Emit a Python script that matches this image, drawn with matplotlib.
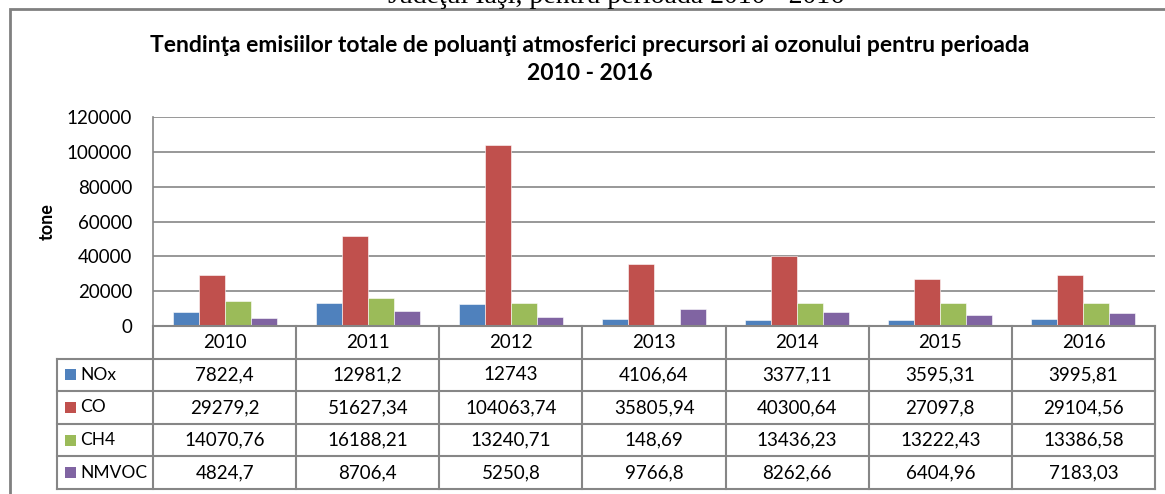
import matplotlib.pyplot as plt
import numpy as np
from matplotlib.patches import Rectangle

plt.rcParams['font.family'] = ['Lato', 'DejaVu Sans']

years = ['2010', '2011', '2012', '2013', '2014', '2015', '2016']
pollutants = ['NOx', 'CO', 'CH4', 'NMVOC']
nox = [7822.4, 12981.2, 12743, 4106.64, 3377.11, 3595.31, 3995.81]
co = [29279.2, 51627.34, 104063.74, 35805.94, 40300.64, 27097.8, 29104.56]
ch4 = [14070.76, 16188.21, 13240.71, 148.69, 13436.23, 13222.43, 13386.58]
nmvoc = [4824.7, 8706.4, 5250.8, 9766.8, 8262.66, 6404.96, 7183.03]
series = [nox, co, ch4, nmvoc]
colors = ['#4F81BD', '#C0504D', '#9BBB59', '#8064A2']

W, H = 1165, 494
fig = plt.figure(figsize=(W / 100, H / 100), dpi=100)

def box(x0, y0, x1, y1):
    # pixel box (top-left origin) -> figure fraction rect
    return [x0 / W, 1 - y1 / H, (x1 - x0) / W, (y1 - y0) / H]

# outer chart border, bottom goes past the picture
fig.patches.append(Rectangle((9.5 / W, -0.2), (1200 - 9.5) / W, 1.2 - 9.5 / H,
                             transform=fig.transFigure, fill=False,
                             edgecolor='#808080', linewidth=2, clip_on=False))

# caption of the page above the chart, cut by the crop
fig.text(616 / W, 1 - 3 / H, 'Judeţul Iaşi, pentru perioada 2010 - 2016',
         ha='center', va='baseline', fontsize=20, family='Liberation Serif')

fig.text(590 / W, 1 - 45 / H,
         'Tendinţa emisiilor totale de poluanţi atmosferici precursori ai ozonului pentru perioada',
         ha='center', va='center', fontsize=16.5, weight='bold')
fig.text(590 / W, 1 - 73 / H, '2010 - 2016',
         ha='center', va='center', fontsize=16.5, weight='bold')

# bar area
ax = fig.add_axes(box(153, 117, 1155, 326))
n = len(pollutants)
bw = 1 / (n + 1.5)
x = np.arange(len(years))
for i, (vals, c) in enumerate(zip(series, colors)):
    ax.bar(x + 0.5 + (i - (n - 1) / 2) * bw, vals, bw, color=c,
           edgecolor='white', linewidth=0.4, zorder=3)
ax.set_xlim(0, len(years))
ax.set_ylim(0, 120000)
ax.set_yticks(np.arange(0, 120001, 20000))
ax.set_yticklabels([str(v) for v in range(0, 120001, 20000)], fontsize=13.5)
ax.set_xticks([])
ax.yaxis.grid(True, color='#868686', linewidth=1.2, zorder=0)
ax.tick_params(axis='y', length=0, pad=15)
for s in ['top', 'right', 'bottom']:
    ax.spines[s].set_visible(False)
ax.spines['left'].set_color('#868686')
ax.spines['left'].set_linewidth(1.2)
ax.set_ylabel('tone', fontsize=13, weight='bold', labelpad=8)

# data table below
leg_w = (153 - 57) / 143
tab = fig.add_axes(box(57, 326, 1155, 489))
tab.set_xlim(-leg_w, len(years))
tab.set_ylim(len(pollutants) + 1, 0)
tab.axis('off')
lc = '#868686'
lw = 1.5
tab.plot([0, len(years)], [0, 0], color=lc, lw=lw, clip_on=False)
for r in range(1, len(pollutants) + 2):
    tab.plot([-leg_w, len(years)], [r, r], color=lc, lw=lw, clip_on=False)
tab.plot([-leg_w, -leg_w], [1, len(pollutants) + 1], color=lc, lw=lw, clip_on=False)
for c in range(len(years) + 1):
    tab.plot([c, c], [0, len(pollutants) + 1], color=lc, lw=lw, clip_on=False)

for j, yr in enumerate(years):
    tab.text(j + 0.5, 0.5, yr, ha='center', va='center', fontsize=13.5)

def fmt(v):
    return str(v).replace('.', ',')

for i, (name, vals, c) in enumerate(zip(pollutants, series, colors)):
    r = i + 1.5
    tab.add_patch(Rectangle((-leg_w + 0.055, r - 0.17), 0.077, 0.34,
                            facecolor=c, edgecolor='none'))
    tab.text(-leg_w + 0.16, r, name, ha='left', va='center', fontsize=12.5)
    for j, v in enumerate(vals):
        tab.text(j + 0.5, r, fmt(v), ha='center', va='center', fontsize=13.5)

fig.savefig('out.png', dpi=100)
